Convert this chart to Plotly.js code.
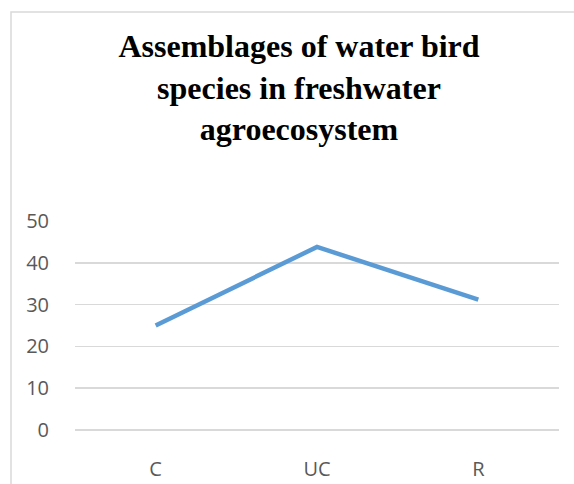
<!DOCTYPE html>
<html>
<head>
<meta charset="utf-8">
<script src="https://cdn.plot.ly/plotly-3.0.1.min.js"></script>
<style>html,body{margin:0;padding:0;background:#fff;}#chart{width:574px;height:484px;}</style>
</head>
<body>
<div id="chart"></div>
<script>
const categories = ["C", "UC", "R"];
const values = [25, 43.8, 31.2];
const yTicks = [0, 10, 20, 30, 40, 50];
const titleText = "Assemblages of water bird<br>species in freshwater<br>agroecosystem";

const W = 574, H = 484;
const mL = 75, mR = 15, mT = 221, mB = 54;
const pw = W - mL - mR, ph = H - mT - mB;
const px = v => (v - mL) / pw;
const py = v => (H - mB - v) / ph;

const trace = {
  x: categories,
  y: values,
  type: "scatter",
  mode: "lines",
  line: {color: "#5B9BD5", width: 4.5},
  hoverinfo: "skip"
};

const layout = {
  width: W, height: H,
  margin: {l: mL, r: mR, t: mT, b: mB, pad: 0},
  paper_bgcolor: "#ffffff",
  plot_bgcolor: "#ffffff",
  showlegend: false,
  title: {
    text: titleText,
    font: {family: "Liberation Serif, Times New Roman, serif", size: 32, color: "#000000", weight: "bold"},
    xref: "container", yref: "container",
    x: 299 / W, xanchor: "center",
    y: 1 - 57 / H, yanchor: "top"
  },
  xaxis: {
    type: "category",
    range: [-0.5, 2.5],
    showgrid: false,
    zeroline: false,
    showline: false,
    ticks: "outside", ticklen: 21, tickcolor: "rgba(0,0,0,0)",
    tickfont: {family: "Open Sans, sans-serif", size: 20, color: "#595959"},
    fixedrange: true
  },
  yaxis: {
    range: [0, 50],
    tickvals: yTicks,
    ticktext: yTicks.map(String),
    showgrid: true, gridcolor: "#d9d9d9", gridwidth: 1.5,
    zeroline: true, zerolinecolor: "#d9d9d9", zerolinewidth: 1.5,
    showline: false,
    ticks: "outside", ticklen: 21, tickcolor: "rgba(0,0,0,0)",
    tickfont: {family: "Open Sans, sans-serif", size: 20, color: "#595959"},
    fixedrange: true
  },
  shapes: [{
    type: "path", xref: "paper", yref: "paper",
    path: `M ${px(11)} ${py(H)} L ${px(11)} ${py(12)} L ${px(W)} ${py(12)}`,
    line: {color: "#d9d9d9", width: 1.5}
  }]
};

Plotly.newPlot("chart", [trace], layout, {displayModeBar: false, staticPlot: true});
</script>
</body>
</html>
